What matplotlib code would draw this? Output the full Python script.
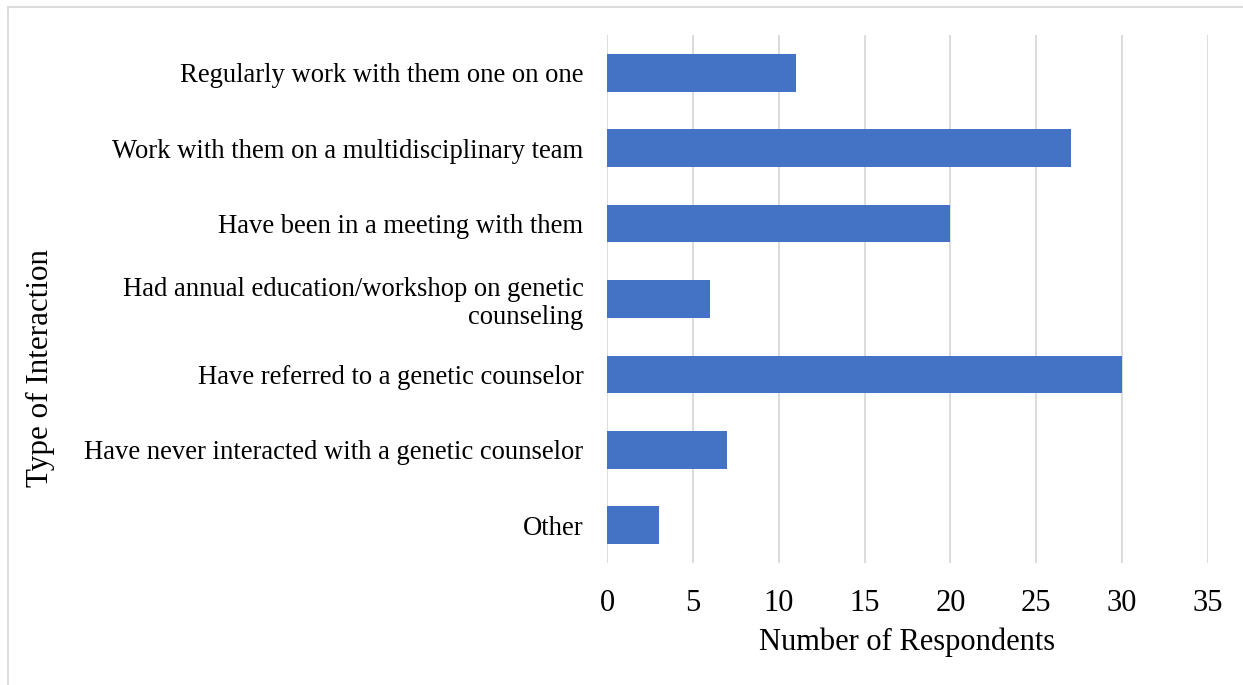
import matplotlib
matplotlib.use("Agg")
import matplotlib.pyplot as plt
from matplotlib.lines import Line2D

categories = [
    "Regularly work with them one on one",
    "Work with them on a multidisciplinary team",
    "Have been in a meeting with them",
    "Had annual education/workshop on genetic\ncounseling",
    "Have referred to a genetic counselor",
    "Have never interacted with a genetic counselor",
    "Other",
]
respondents = [11, 27, 20, 6, 30, 7, 3]
x_ticks = [0, 5, 10, 15, 20, 25, 30, 35]

plt.rcParams["font.family"] = ["Liberation Serif", "DejaVu Serif"]

W, H = 1243, 685
fig = plt.figure(figsize=(W / 100, H / 100), dpi=100)
ax = fig.add_axes([607 / W, 1 - 563 / H, (1208 - 607) / W, (563 - 35) / H])

y = list(range(len(categories)))
ax.barh(y, respondents, height=0.5, color="#4472C4", zorder=3)

ax.set_xlim(0, 35)
ax.set_ylim(len(categories) - 0.5, -0.5)
ax.set_xticks(x_ticks)
ax.set_xticklabels([str(t) for t in x_ticks], fontsize=22)
ax.set_yticks(y)
ax.set_yticklabels(categories, fontsize=19.2, linespacing=1.15)
ax.tick_params(axis="both", length=0)
ax.tick_params(axis="x", pad=18.5)
ax.tick_params(axis="y", pad=17)
ax.grid(axis="x", color="#d9d9d9", linewidth=1.3, zorder=0)
for s in ax.spines.values():
    s.set_visible(False)

ax.set_xlabel("Number of Respondents", fontsize=22, labelpad=7)
fig.text(40 / W, 1 - 368 / H, "Type of Interaction", rotation=90,
         fontsize=22.4, ha="center", va="center")

# light frame along the top and left edges
fig.add_artist(Line2D([8 / W, 8 / W], [0, 1 - 7 / H], transform=fig.transFigure,
                      color="#dddddd", linewidth=1.5))
fig.add_artist(Line2D([8 / W, 1], [1 - 7 / H, 1 - 7 / H], transform=fig.transFigure,
                      color="#dddddd", linewidth=1.5))

fig.savefig("out.png", dpi=100, facecolor="white")
